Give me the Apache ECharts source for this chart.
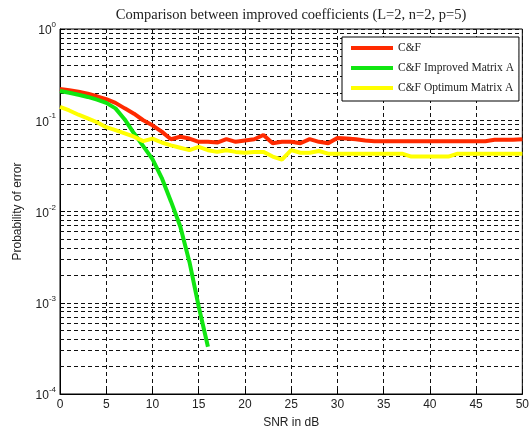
<!DOCTYPE html>
<html><head><meta charset="utf-8">
<script src="https://cdn.jsdelivr.net/npm/echarts@6/dist/echarts.min.js"></script>
<style>html,body{margin:0;padding:0;background:#fff}#c{width:532px;height:434px}</style>
</head><body><div id="c"></div>
<script>
const snr = Array.from({length: 51}, (_, i) => i);
const snrGreen = [0,1,2,3,4,5,6,7,8,9,10,11,12,13,14,15,16];
const cf = [0.22,0.213,0.205,0.195,0.183,0.17,0.155,0.135,0.118,0.1,0.088,0.075,0.062,0.066,0.063,0.058,0.058,0.057,0.062,0.058,0.06,0.062,0.069,0.056,0.058,0.058,0.056,0.062,0.058,0.056,0.064,0.063,0.062,0.06,0.059,0.059,0.059,0.059,0.059,0.059,0.059,0.059,0.059,0.059,0.059,0.059,0.059,0.061,0.061,0.061,0.062];
const improved = [0.209,0.2,0.19,0.18,0.168,0.155,0.135,0.102,0.072,0.052,0.0375,0.0234,0.0129,0.0069,0.0028,0.00091,0.00033];
const optimum = [0.14,0.128,0.115,0.105,0.095,0.084,0.078,0.072,0.066,0.059,0.063,0.057,0.053,0.05,0.047,0.051,0.047,0.045,0.047,0.045,0.044,0.045,0.045,0.04,0.037,0.047,0.044,0.044,0.046,0.043,0.043,0.043,0.043,0.043,0.043,0.043,0.043,0.043,0.04,0.04,0.04,0.04,0.04,0.043,0.043,0.043,0.043,0.043,0.043,0.043,0.043];
const seriesNames = ['C&F', 'C&F Improved Matrix A', 'C&F Optimum Matrix A'];
const minorGrid = [];
[1e-4, 1e-3, 1e-2, 1e-1].forEach(d => { for (let k = 2; k <= 9; k++) minorGrid.push(+(d * k).toPrecision(3)); });

const chart = echarts.init(document.getElementById('c'), null, {renderer: 'canvas'});
const gridDash = {color: '#111', width: 1, type: [4, 3]};
chart.setOption({
  animation: false,
  backgroundColor: '#fff',
  title: {
    text: 'Comparison between improved coefficients (L=2, n=2, p=5)',
    left: 286, top: 3, textAlign: 'center',
    textStyle: {fontFamily: 'Liberation Serif', fontSize: 14.5, fontWeight: 'normal', color: '#222'}
  },
  legend: {
    orient: 'vertical', left: 342, top: 37, z: 10,
    padding: [5, 5, 7, 9], itemGap: 8,
    backgroundColor: '#fff', borderColor: '#000', borderWidth: 1,
    itemWidth: 42, itemHeight: 4, icon: 'rect',
    textStyle: {fontFamily: 'Liberation Serif', fontSize: 11.5, color: '#222'},
    data: seriesNames
  },
  grid: {left: 60, right: 6, top: 29, bottom: 40, show: true, borderColor: '#000', borderWidth: 1},
  xAxis: {
    type: 'value', min: 0, max: 50, interval: 5,
    name: 'SNR in dB', nameLocation: 'middle', nameGap: 23,
    nameTextStyle: {fontFamily: 'Liberation Sans', fontSize: 12, color: '#222'},
    axisLine: {lineStyle: {color: '#000'}},
    axisTick: {inside: true, length: 5, lineStyle: {color: '#000'}},
    axisLabel: {fontFamily: 'Liberation Sans', fontSize: 12, color: '#222', margin: 5},
    splitLine: {show: true, lineStyle: gridDash}
  },
  yAxis: {
    type: 'log', logBase: 10, min: 1e-4, max: 1,
    name: 'Probability of error', nameLocation: 'middle', nameGap: 36,
    nameTextStyle: {fontFamily: 'Liberation Sans', fontSize: 12, color: '#222'},
    axisLine: {show: true, lineStyle: {color: '#000'}},
    axisTick: {inside: true, length: 5, lineStyle: {color: '#000'}},
    axisLabel: {
      margin: 4,
      formatter: v => '{b|10}{s|' + Math.round(Math.log10(v)) + '}',
      rich: {
        b: {fontFamily: 'Liberation Sans', fontSize: 12, color: '#222', padding: [4, 0, 0, 0]},
        s: {fontFamily: 'Liberation Sans', fontSize: 8, color: '#222', padding: [0, 0, 8, 0]}
      }
    },
    splitLine: {show: true, lineStyle: gridDash}
  },
  series: [
    {
      name: seriesNames[0], type: 'line', showSymbol: false, symbol: 'none',
      data: snr.map((x, i) => [x, cf[i]]),
      lineStyle: {color: '#ff2a00', width: 4}, itemStyle: {color: '#ff2a00'},
      markLine: {
        silent: true, symbol: ['none', 'none'], label: {show: false}, precision: 8, z: 1,
        lineStyle: gridDash, animation: false,
        data: minorGrid.map(v => ({yAxis: v}))
      }
    },
    {
      name: seriesNames[1], type: 'line', showSymbol: false, symbol: 'none',
      data: snrGreen.map((x, i) => [x, improved[i]]),
      lineStyle: {color: '#11e611', width: 4}, itemStyle: {color: '#11e611'}
    },
    {
      name: seriesNames[2], type: 'line', showSymbol: false, symbol: 'none',
      data: snr.map((x, i) => [x, optimum[i]]),
      lineStyle: {color: '#ffff00', width: 4}, itemStyle: {color: '#ffff00'}
    }
  ]
});
</script></body></html>
